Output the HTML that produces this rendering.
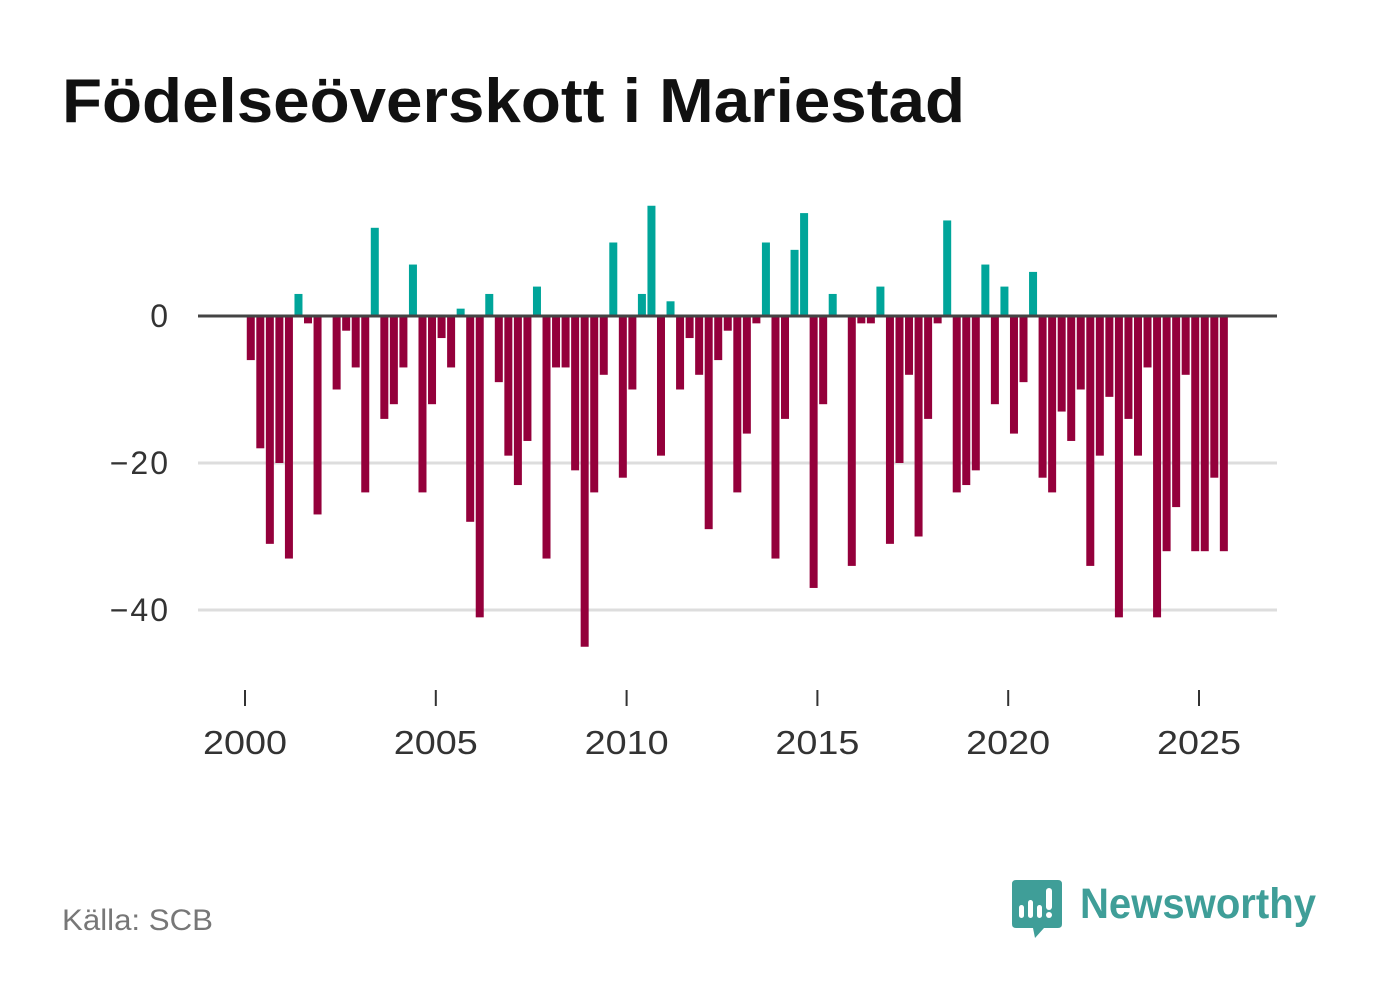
<!DOCTYPE html>
<html><head><meta charset="utf-8"><style>
html,body{margin:0;padding:0;background:#fff;width:1382px;height:999px;overflow:hidden;font-family:"Liberation Sans",sans-serif}
</style></head><body>
<svg width="1382" height="999" xmlns="http://www.w3.org/2000/svg">
<text x="62" y="122" font-size="62" font-weight="bold" fill="#111" textLength="903" lengthAdjust="spacingAndGlyphs">Födelseöverskott i Mariestad</text>
<g id="grid"></g>
<g id="bars"></g>
<g id="axes"></g>
<text x="62" y="930" font-size="30" fill="#777" textLength="151" lengthAdjust="spacingAndGlyphs">Källa: SCB</text>
<g>
<path d="M1016 880 H1058 Q1062 880 1062 884 V924 Q1062 928 1058 928 H1044 L1035 938 L1033 928 H1016 Q1012 928 1012 924 V884 Q1012 880 1016 880 Z" fill="#3f9e98"/>
<rect x="1019" y="905" width="5" height="13" rx="2.5" fill="#fff"/>
<rect x="1028" y="900" width="5" height="18" rx="2.5" fill="#fff"/>
<rect x="1037" y="905" width="5" height="13" rx="2.5" fill="#fff"/>
<rect x="1046" y="888" width="6" height="22" rx="3" fill="#fff"/>
<circle cx="1049" cy="915" r="3" fill="#fff"/>
<text x="1080" y="918" font-size="43" font-weight="bold" fill="#3f9e98" textLength="236" lengthAdjust="spacingAndGlyphs">Newsworthy</text>
</g>
</svg>
<script>
const values=[-6,-18,-31,-20,-33,3,-1,-27,0,-10,-2,-7,-24,12,-14,-12,-7,7,-24,-12,-3,-7,1,-28,-41,3,-9,-19,-23,-17,4,-33,-7,-7,-21,-45,-24,-8,10,-22,-10,3,15,-19,2,-10,-3,-8,-29,-6,-2,-24,-16,-1,10,-33,-14,9,14,-37,-12,3,0,-34,-1,-1,4,-31,-20,-8,-30,-14,-1,13,-24,-23,-21,7,-12,4,-16,-9,6,-22,-24,-13,-17,-10,-34,-19,-11,-41,-14,-19,-7,-41,-32,-26,-8,-32,-32,-22,-32];
const startYear=2000;
const yTicks=[0,-20,-40];
const yTickLabels=["0","\u221220","\u221240"];
const xTicks=[2000,2005,2010,2015,2020,2025];
const NS="http://www.w3.org/2000/svg";
function x(d){return 246+(d-2000)*38.16;}
function y(v){return 316-v*7.35;}
function mk(tag,attrs,parent){const e=document.createElementNS(NS,tag);for(const k in attrs)e.setAttribute(k,attrs[k]);parent.appendChild(e);return e;}
const grid=document.getElementById('grid'),bars=document.getElementById('bars'),axes=document.getElementById('axes');
yTicks.forEach((t,i)=>{
 if(t!==0){const l=mk('line',{x1:198,x2:1277,y1:y(t),y2:y(t),stroke:'#ddd','stroke-width':3},grid);
 
 }
 const tx=mk('text',{x:170,y:y(t)+11,'font-size':32,fill:'#333','text-anchor':'end','letter-spacing':'2'},axes);
 tx.textContent=yTickLabels[i];
 
 
});
values.forEach((v,i)=>{
 const d=startYear+i/4+0.125;
 if(v===0)return;
 const r=mk('rect',{x:x(d)-4,width:8,y:v>0?y(v):y(0),height:Math.abs(y(v)-y(0)),fill:v>0?'#00a59a':'#94003b'},bars);
 
 
});
const base=mk('line',{x1:198,x2:1277,y1:y(0),y2:y(0),stroke:'#444','stroke-width':3},axes);


xTicks.forEach(t=>{
 const l=mk('line',{x1:x(t)-1,x2:x(t)-1,y1:690,y2:706,stroke:'#333','stroke-width':2},axes);
 
 
 const tx=mk('text',{x:x(t)-1,y:754,'font-size':33,fill:'#333','text-anchor':'middle','textLength':84,'lengthAdjust':'spacingAndGlyphs'},axes);
 tx.textContent=t;
 
 
});
</script>
</body></html>
